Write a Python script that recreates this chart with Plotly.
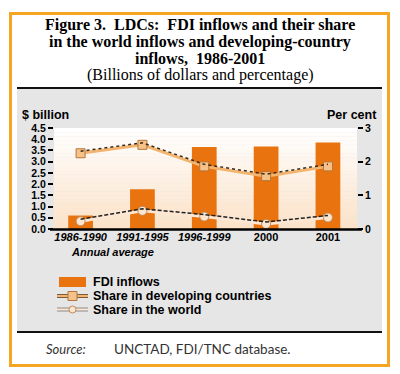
import plotly.graph_objects as go

# ---------------- data ----------------
categories = ["1986-1990", "1991-1995", "1996-1999", "2000", "2001"]
tick_labels = ["<i>1986-1990</i>", "<i>1991-1995</i>", "<i>1996-1999</i>", "2000", "2001"]
fdi_inflows = [0.60, 1.77, 3.65, 3.68, 3.85]            # $ billion
share_developing = [2.25, 2.50, 1.86, 1.57, 1.86]       # per cent
share_world = [0.23, 0.54, 0.37, 0.15, 0.34]            # per cent
left_ticks = [0, 0.5, 1.0, 1.5, 2.0, 2.5, 3.0, 3.5, 4.0, 4.5]
right_ticks = [0, 1, 2, 3]

# ---------------- geometry helpers ----------------
W_FIG, H_FIG = 400, 374
PL, PR, PT, PB = 54, 357, 128, 229   # plot area in pixels


def px(x):
    return (x - PL) / (PR - PL)


def py(y):
    return (PB - y) / (PB - PT)


BAR = "#E9730E"
DEV_LINE = "#F3B46F"
DEV_MARK = "#F7C28A"
WORLD_LINE = "#FDE7D3"
WORLD_MARK = "#FDE6CF"
BORDER = "#F6A623"
PANEL = "#E6E6E6"
SANS = "Liberation Sans, Arial, sans-serif"
SERIF = "Liberation Serif, Times New Roman, serif"

fig = go.Figure()

fig.add_trace(go.Bar(x=categories, y=fdi_inflows, marker=dict(color=BAR, line=dict(width=0)),
                     width=0.4, name="FDI inflows", yaxis="y", showlegend=False))

# shadow (dark dotted) lines, slightly offset upward
fig.add_trace(go.Scatter(x=categories, y=share_developing, mode="lines", yaxis="y3",
                         line=dict(color="#3a2a1a", width=1.5, dash="dot"),
                         hoverinfo="skip", showlegend=False))
fig.add_trace(go.Scatter(x=categories, y=share_world, mode="lines", yaxis="y3",
                         line=dict(color="#222222", width=1.5, dash="4px,2px"),
                         hoverinfo="skip", showlegend=False))

fig.add_trace(go.Scatter(x=categories, y=share_developing, mode="lines+markers", yaxis="y2",
                         line=dict(color=DEV_LINE, width=3),
                         marker=dict(symbol="square", size=9, color=DEV_MARK,
                                     line=dict(color="#B5763A", width=1)),
                         name="Share in developing countries", showlegend=False))
fig.add_trace(go.Scatter(x=categories, y=share_world, mode="lines+markers", yaxis="y2",
                         line=dict(color=WORLD_LINE, width=3),
                         marker=dict(symbol="circle", size=9, color=WORLD_MARK,
                                     line=dict(color="#C08A5A", width=1)),
                         name="Share in the world", showlegend=False))

shapes = []
# gray panel
shapes.append(dict(type="rect", xref="paper", yref="paper", layer="below",
                   x0=px(17), x1=px(382), y0=py(331), y1=py(89),
                   fillcolor=PANEL, line=dict(width=0)))
# gradient plot background
n = 24
top = (255, 255, 255)
bot = (252, 226, 200)
for i in range(n):
    t = i / (n - 1)
    c = tuple(round(top[k] + (bot[k] - top[k]) * t) for k in range(3))
    shapes.append(dict(type="rect", xref="x domain", yref="y domain", layer="below",
                       x0=0, x1=1, y0=1 - (i + 1) / n, y1=1 - i / n,
                       fillcolor="rgb(%d,%d,%d)" % c, line=dict(width=0)))
# baseline
shapes.append(dict(type="line", xref="paper", yref="paper", x0=px(50), x1=px(362),
                   y0=py(229.5), y1=py(229.5), line=dict(color="black", width=2.5)))
# rules under title and above source
shapes.append(dict(type="line", xref="paper", yref="paper", x0=px(17), x1=px(382),
                   y0=py(88), y1=py(88), line=dict(color="#111111", width=2)))
shapes.append(dict(type="line", xref="paper", yref="paper", x0=px(17), x1=px(382),
                   y0=py(332), y1=py(332), line=dict(color="#111111", width=2)))
# outer orange frame
shapes.append(dict(type="rect", xref="paper", yref="paper", x0=px(10.5), x1=px(388.5),
                   y0=py(365.5), y1=py(13.5), line=dict(color=BORDER, width=3)))

# custom legend symbols
shapes.append(dict(type="rect", xref="paper", yref="paper", x0=px(59), x1=px(86),
                   y0=py(287), y1=py(277), fillcolor=BAR, line=dict(width=0)))
for yy, light, dark, mk in [(296, DEV_LINE, "#7a5a3a", "square"), (309.5, WORLD_LINE, "#8a8a8a", "dot")]:
    shapes.append(dict(type="line", xref="paper", yref="paper", x0=px(57), x1=px(88),
                       y0=py(yy), y1=py(yy), line=dict(color=dark, width=4)))
    shapes.append(dict(type="line", xref="paper", yref="paper", x0=px(57), x1=px(88),
                       y0=py(yy), y1=py(yy), line=dict(color=light, width=2)))
    if mk == "square":
        shapes.append(dict(type="rect", xref="paper", yref="paper", x0=px(68), x1=px(77),
                           y0=py(yy + 4.5), y1=py(yy - 4.5), fillcolor=DEV_MARK,
                           line=dict(color="#B5763A", width=1)))
    else:
        shapes.append(dict(type="circle", xref="paper", yref="paper", x0=px(69), x1=px(76),
                           y0=py(yy + 3.5), y1=py(yy - 3.5), fillcolor=WORLD_MARK,
                           line=dict(color="#C08A5A", width=1)))

annotations = []


def txt(text, x, y, size, family=SANS, weight="normal", anchor="center", color="black", style="normal"):
    annotations.append(dict(text=text, xref="paper", yref="paper", x=px(x), y=py(y),
                            xanchor=anchor, yanchor="middle", showarrow=False,
                            font=dict(family=family, size=size, color=color, weight=weight, style=style)))


txt("Figure 3.  LDCs:  FDI inflows and their share", 200, 25, 16, SERIF, "bold")
txt("in the world inflows and developing-country", 200, 42, 16, SERIF, "bold")
txt("inflows,  1986-2001", 200, 58.5, 16, SERIF, "bold")
txt("(Billions of dollars and percentage)", 200, 75, 16, SERIF)

txt("$ billion", 20, 115, 12.5, weight="bold", anchor="left")
txt("Per cent", 379, 115, 12.5, weight="bold", anchor="right")
txt("Annual average", 112, 252, 11, weight="bold", style="italic")

legend_items = ["FDI inflows", "Share in developing countries", "Share in the world"]
for label, yy in zip(legend_items, [282, 296, 309.5]):
    txt(label, 91, yy, 12.5, weight="bold", anchor="left")

txt("<i>Source:</i>", 44, 349, 13, family="Lato, sans-serif", anchor="left", color="#333333")
txt("UNCTAD, FDI/TNC database.", 112, 349, 13.5, family="Lato, sans-serif", anchor="left", color="#333333")

fig.update_layout(
    width=W_FIG, height=H_FIG,
    margin=dict(l=PL, r=W_FIG - PR, t=PT, b=H_FIG - PB, pad=0),
    paper_bgcolor="white", plot_bgcolor="rgba(0,0,0,0)",
    showlegend=False,
    shapes=shapes, annotations=annotations,
    xaxis=dict(type="category", range=[-0.43, 4.47], tickvals=categories, ticktext=tick_labels,
               showgrid=False, showline=False, zeroline=False, ticks="",
               tickfont=dict(family=SANS, size=11, weight="bold", color="black")),
    yaxis=dict(range=[0, 4.5], tickvals=left_ticks, ticktext=["%.1f" % v for v in left_ticks],
               showgrid=False, zeroline=False, showline=False, ticks="outside", ticklen=5,
               tickcolor="black", tickwidth=1.5,
               tickfont=dict(family=SANS, size=10.5, weight="bold", color="black")),
    yaxis2=dict(range=[0, 3], tickvals=right_ticks, overlaying="y", side="right",
                showgrid=False, zeroline=False, showline=False, ticks="outside", ticklen=5,
                tickcolor="black", tickwidth=1.5,
                tickfont=dict(family=SANS, size=10.5, weight="bold", color="black")),
    yaxis3=dict(range=[-0.06, 2.94], overlaying="y", visible=False),
)

fig.write_html("out.html", config={"displayModeBar": False},
               post_script="document.body.style.margin='0';document.body.style.padding='0';")
